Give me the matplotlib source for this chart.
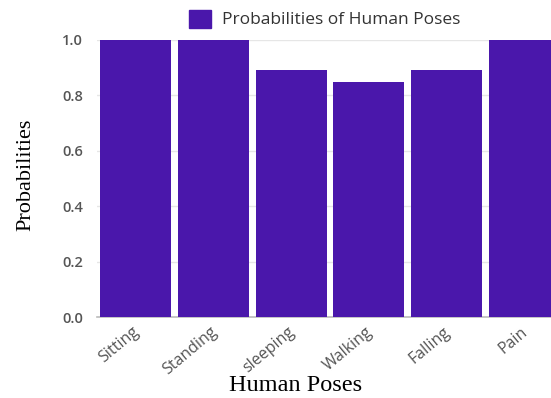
import matplotlib
matplotlib.use('Agg')
import matplotlib.pyplot as plt
import matplotlib.transforms as mtransforms
from matplotlib.patches import Patch

poses = ['Sitting', 'Standing', 'sleeping', 'Walking', 'Falling', 'Pain']
probabilities = [1.0, 1.0, 0.89, 0.85, 0.89, 1.0]
yticks = [0.0, 0.2, 0.4, 0.6, 0.8, 1.0]

bar_color = '#4a17ab'
tick_color = '#555555'

fig = plt.figure(figsize=(5.51, 3.98), dpi=100)
ax = fig.add_axes([0.176, 0.2035, 0.846, 0.696])

x = range(len(poses))
ax.bar(x, probabilities, width=0.915, color=bar_color, zorder=3)

ax.set_xlim(-0.5, 5.5)
ax.set_ylim(0, 1.0)
ax.set_yticks(yticks)
ax.set_yticklabels([f'{v:.1f}' for v in yticks], family='Open Sans', fontsize=10.5,
                   fontweight='semibold', color=tick_color)
ax.set_xticks(list(x))
ax.set_xticklabels(poses, rotation=40, ha='right', rotation_mode='anchor',
                   family='Open Sans', fontsize=11.5, color=tick_color)
ax.tick_params(axis='y', length=0, pad=10)
ax.tick_params(axis='x', length=0, pad=5)

# shift rotated labels slightly left, like the original
offset = mtransforms.ScaledTranslation(-4 / 100, 0, fig.dpi_scale_trans)
for lbl in ax.get_xticklabels():
    lbl.set_transform(lbl.get_transform() + offset)

for s in ['top', 'right', 'left']:
    ax.spines[s].set_visible(False)
ax.spines['bottom'].set_color('#bbbbbb')
ax.spines['bottom'].set_linewidth(1.2)
ax.grid(axis='y', color='#e6e6e6', linewidth=1, zorder=0)
ax.set_axisbelow(True)

fig.text(0.047, 0.56, 'Probabilities', rotation=90, ha='center', va='center',
         family='Liberation Serif', fontsize=16)
fig.text(0.536, 0.032, 'Human Poses', ha='center', va='center',
         family='Liberation Serif', fontsize=17.5)

fig.legend(handles=[Patch(color=bar_color, label='Probabilities of Human Poses')],
           loc='center', bbox_to_anchor=(0.589, 0.952), frameon=False,
           prop={'family': 'Open Sans', 'size': 12.5}, handlelength=1.3, handleheight=1.2,
           handletextpad=0.6, labelcolor='#333333')

fig.savefig('out.png', dpi=100)
